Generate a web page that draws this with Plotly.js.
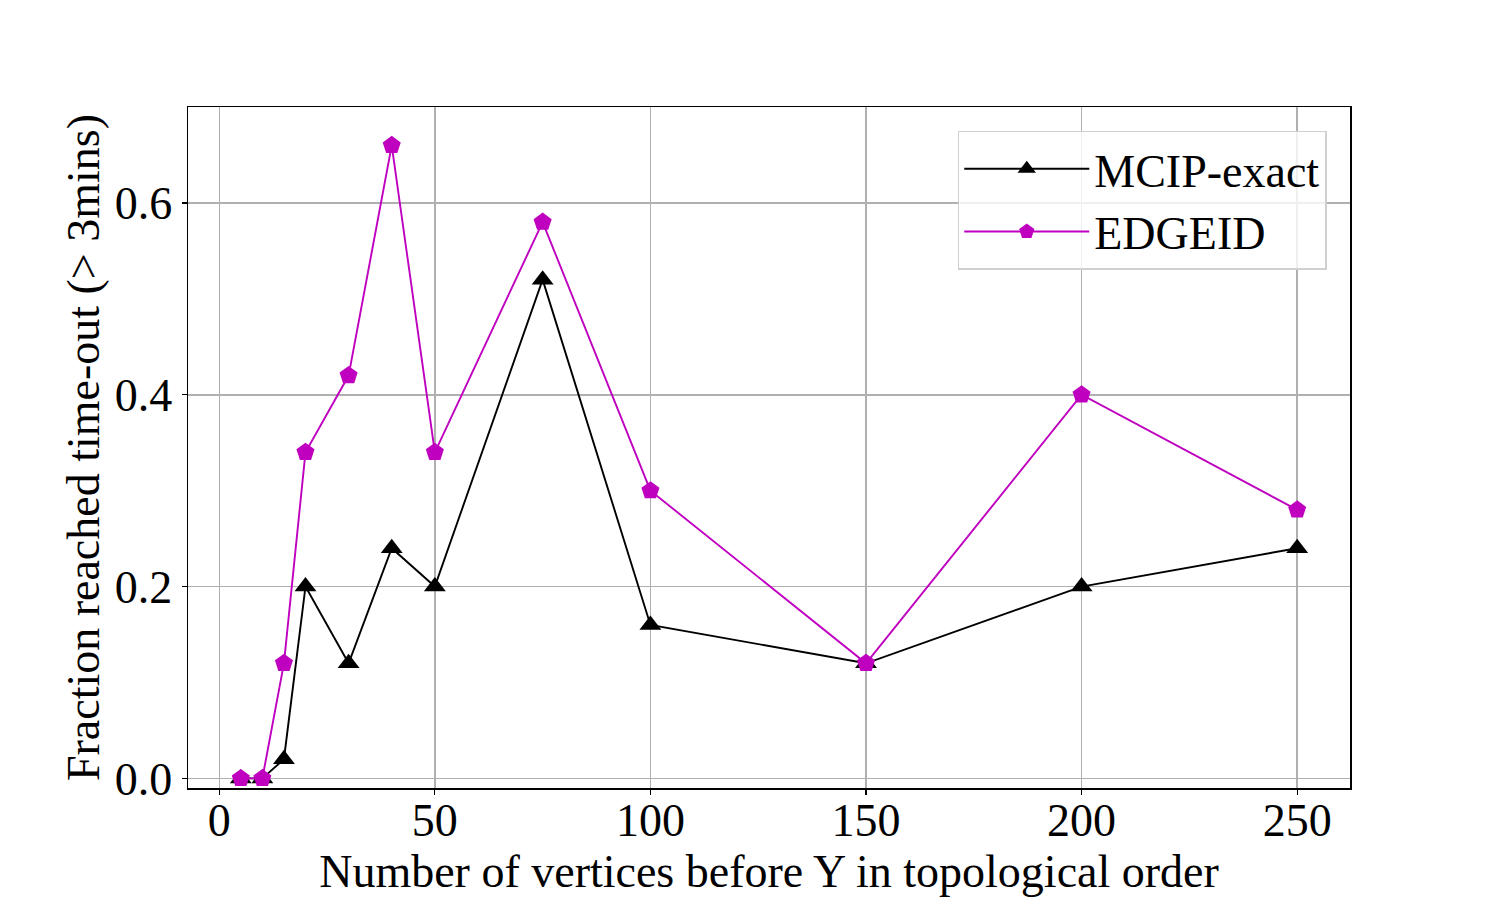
<!DOCTYPE html>
<html>
<head>
<meta charset="utf-8">
<script src="https://cdn.plot.ly/plotly-3.0.1.min.js"></script>
<style>
  body { margin: 0; background: #fff; }
  #chart { width: 1500px; height: 900px; }
</style>
</head>
<body>
<div id="chart"></div>
<script>
var vertices = [5, 10, 15, 20, 30, 40, 50, 75, 100, 150, 200, 250];
var mcipExact = [0, 0, 0.02, 0.2, 0.12, 0.24, 0.2, 0.52, 0.16, 0.12, 0.2, 0.24];
var edgeid = [0, 0, 0.12, 0.34, 0.42, 0.66, 0.34, 0.58, 0.3, 0.12, 0.4, 0.28];

var serif = 'Liberation Serif, Times New Roman, serif';
var fs = 46;

var traces = [
  {
    x: vertices, y: mcipExact, name: 'MCIP-exact',
    type: 'scatter', mode: 'lines+markers',
    line: {color: '#000000', width: 1.9},
    marker: {symbol: 'triangle-up', size: 19, color: '#000000'},
    cliponaxis: true
  },
  {
    x: vertices, y: edgeid, name: 'EDGEID',
    type: 'scatter', mode: 'lines+markers',
    line: {color: '#bf00bf', width: 1.9},
    marker: {symbol: 'pentagon', size: 19, color: '#bf00bf'},
    cliponaxis: true
  }
];

var layout = {
  width: 1500, height: 900,
  paper_bgcolor: '#ffffff', plot_bgcolor: '#ffffff',
  margin: {l: 188, r: 150, t: 107, b: 112},
  font: {family: serif, size: fs, color: '#000'},
  showlegend: true,
  legend: {
    x: 0.98, y: 0.965, xanchor: 'right', yanchor: 'top',
    bgcolor: 'rgba(255,255,255,0.8)', bordercolor: '#d0d0d0', borderwidth: 1.5,
    font: {family: serif, size: fs, color: '#000'},
    itemwidth: 125, tracegroupgap: 10
  },
  xaxis: {
    range: [-7.25, 262.25],
    tickvals: [0, 50, 100, 150, 200, 250],
    ticks: 'outside', ticklen: 5, tickwidth: 1.2, tickcolor: '#000',
    ticklabelstandoff: -14,
    showgrid: true, gridcolor: '#b0b0b0', gridwidth: 1.5,
    zeroline: false,
    showline: true, linecolor: '#000', linewidth: 1.5, mirror: true,
    tickfont: {family: serif, size: fs, color: '#000'},
    title: {text: 'Number of vertices before Y in topological order', font: {family: serif, size: fs, color: '#000'}, standoff: 4}
  },
  yaxis: {
    range: [-0.01, 0.7],
    tickvals: [0, 0.2, 0.4, 0.6],
    ticktext: ['0.0', '0.2', '0.4', '0.6'],
    ticks: 'outside', ticklen: 5, tickwidth: 1.2, tickcolor: '#000',
    showgrid: true, gridcolor: '#b0b0b0', gridwidth: 1.5,
    zeroline: false,
    showline: true, linecolor: '#000', linewidth: 1.5, mirror: true,
    tickfont: {family: serif, size: fs, color: '#000'},
    title: {text: 'Fraction reached time-out (> 3mins)', font: {family: serif, size: fs, color: '#000'}, standoff: 0}
  }
};

Plotly.newPlot('chart', traces, layout, {displayModeBar: false, staticPlot: true});
</script>
</body>
</html>
